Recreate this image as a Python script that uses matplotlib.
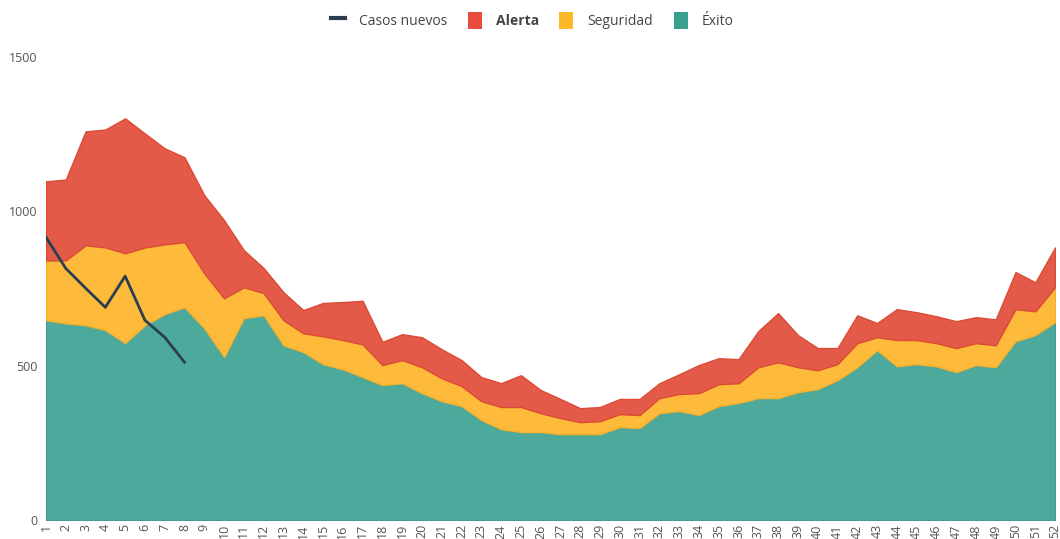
import numpy as np
import matplotlib.pyplot as plt
from matplotlib.patches import Patch
from matplotlib.lines import Line2D

plt.rcParams['font.family'] = ['Open Sans', 'DejaVu Sans']

weeks = list(range(1, 53))

# top of each layer (cumulative)
exito = [647, 637, 631, 615, 573, 631, 667, 689, 621, 528,
         654, 663, 566, 544, 505, 488, 463, 437, 443, 411,
         385, 369, 324, 294, 285, 285, 278, 278, 278, 301,
         298, 346, 353, 340, 369, 379, 395, 395, 414, 424,
         453, 495, 550, 498, 505, 498, 479, 502, 495, 579,
         599, 641]
seguridad_top = [841, 841, 890, 883, 864, 883, 893, 900, 799, 718,
                 754, 735, 647, 605, 595, 583, 569, 502, 518, 495,
                 459, 434, 385, 366, 366, 346, 330, 317, 320, 343,
                 340, 395, 408, 411, 440, 443, 495, 511, 495, 485,
                 505, 573, 592, 583, 583, 573, 557, 573, 566, 683,
                 676, 754]
alerta_top = [1097, 1103, 1259, 1265, 1301, 1252, 1204, 1175, 1052, 971,
              874, 816, 738, 680, 703, 706, 710, 577, 602, 592,
              553, 518, 463, 443, 469, 421, 392, 362, 366, 392,
              392, 443, 472, 502, 524, 521, 612, 670, 599, 557,
              557, 663, 638, 683, 673, 660, 644, 657, 650, 803,
              770, 883]

casos_weeks = [1, 2, 3, 4, 5, 6, 7, 8]
casos_nuevos = [916, 815, 751, 689, 790, 647, 592, 511]

c_alerta = '#e35b48'
c_seg = '#fdba3b'
c_exito = '#4ea99d'
c_line = '#2c3e50'

fig = plt.figure(figsize=(10.6, 5.39), dpi=100)
ax = fig.add_axes([0.0434, 0.0353, 0.952, 0.859])

x = np.array(weeks)
ax.fill_between(x, 0, exito, color=c_exito, edgecolor='#3f9e91', linewidth=1)
ax.fill_between(x, exito, seguridad_top, color=c_seg, edgecolor='#f6b02c', linewidth=1)
ax.fill_between(x, seguridad_top, alerta_top, color=c_alerta, edgecolor='#dc4a36', linewidth=1)
ax.plot(casos_weeks, casos_nuevos, color=c_line, linewidth=2)

ax.set_xlim(1, 52)
ax.set_ylim(0, 1500)
ax.set_yticks([0, 500, 1000, 1500])
ax.set_xticks(weeks)
ax.set_xticklabels([str(w) for w in weeks], rotation=90)
ax.tick_params(axis='both', length=0, labelsize=9, colors='#555555', pad=6)
ax.tick_params(axis='x', pad=3)
for s in ax.spines.values():
    s.set_visible(False)

handles = [Line2D([0], [0], color=c_line, linewidth=3),
           Patch(facecolor='#e74c3c'),
           Patch(facecolor='#fbb829'),
           Patch(facecolor='#3aa08f')]
leg = fig.legend(handles, ['Casos nuevos', 'Alerta', 'Seguridad', 'Éxito'],
                 loc='center', bbox_to_anchor=(0.502, 0.962), ncol=4, frameon=False,
                 fontsize=10, handlelength=1.0, handleheight=1.5, columnspacing=1.5,
                 handletextpad=1.0)
for t in leg.get_texts():
    t.set_color('#444444')
leg.get_texts()[1].set_fontweight('bold')

fig.savefig('out.png', dpi=100)
